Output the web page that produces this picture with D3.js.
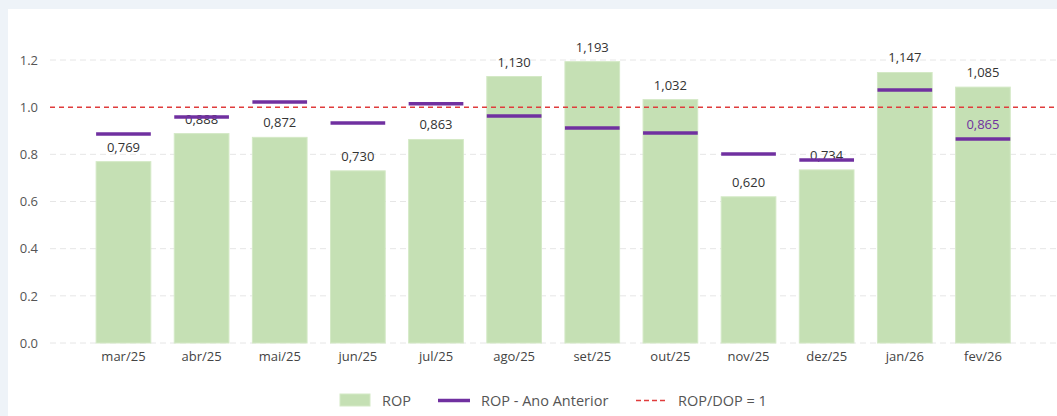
<!DOCTYPE html>
<html>
<head>
<meta charset="utf-8">
<script src="https://cdn.jsdelivr.net/npm/d3@7"></script>
<style>
  body { margin: 0; background: #eef3f8; }
  svg { display: block; font-family: "Open Sans", sans-serif; }
</style>
</head>
<body>
<svg id="chart"></svg>
<script>
// Data
const months = ['mar/25','abr/25','mai/25','jun/25','jul/25','ago/25','set/25','out/25','nov/25','dez/25','jan/26','fev/26'];
const rop = [0.769, 0.888, 0.872, 0.730, 0.863, 1.130, 1.193, 1.032, 0.620, 0.734, 1.147, 1.085];
const ropAnoAnterior = [0.886, 0.958, 1.022, 0.933, 1.014, 0.963, 0.912, 0.890, 0.801, 0.776, 1.073, 0.865];
const yTicks = [0, 0.2, 0.4, 0.6, 0.8, 1.0, 1.2];
const refLine = 1;

const width = 1057, height = 416;
const green = '#c5e0b4', purple = '#7030a0', red = '#e03c3c', textCol = '#333333';

const svg = d3.select('#chart').attr('width', width).attr('height', height);

// background panel
svg.append('rect').attr('width', width).attr('height', height).attr('fill', '#eef3f8');
svg.append('rect').attr('x', 8).attr('y', 9).attr('width', width - 8).attr('height', height - 9).attr('fill', '#ffffff');

const x = d3.scaleBand().domain(months).range([84.4, 1022]).paddingInner(0.3).paddingOuter(0.15);
const y = d3.scaleLinear().domain([0, 1.2]).range([343, 60]);

const fmt = v => d3.format('.3f')(v).replace('.', ',');

//Gridlines
svg.append('g').selectAll('line')
  .data(yTicks.filter(d => d !== 1))
  .enter().append('line')
    .attr('x1', 50).attr('x2', width)
    .attr('y1', d => y(d)).attr('y2', d => y(d))
    .attr('stroke', '#e6e6e6').attr('stroke-dasharray', '6,4');

//Y axis
const yAxis = svg.append('g')
  .attr('transform', 'translate(38,0)')
  .call(d3.axisLeft(y).tickValues(yTicks).tickFormat(d3.format('.1f')).tickSize(0).tickPadding(0));
yAxis.select('.domain').remove();
yAxis.selectAll('text').attr('font-size', 13).attr('fill', '#555').attr('font-family', '"Open Sans", sans-serif');

//X axis
const xAxis = svg.append('g')
  .attr('transform', 'translate(0,352)')
  .call(d3.axisBottom(x).tickSize(0).tickPadding(0));
xAxis.select('.domain').remove();
xAxis.selectAll('text').attr('font-size', 13).attr('fill', '#444').attr('dy', '0.71em').attr('font-family', '"Open Sans", sans-serif');

//Bars
svg.append('g').selectAll('rect')
  .data(rop)
  .enter().append('rect')
    .attr('x', (d, i) => x(months[i]))
    .attr('y', d => y(d))
    .attr('width', x.bandwidth())
    .attr('height', d => y(0) - y(d))
    .attr('fill', green)
    .attr('stroke', '#d4e9c6').attr('stroke-width', 1);

//Bar labels
svg.append('g').selectAll('text')
  .data(rop)
  .enter().append('text')
    .attr('x', (d, i) => x(months[i]) + x.bandwidth() / 2)
    .attr('y', d => y(d) - 10)
    .attr('text-anchor', 'middle')
    .attr('font-size', 13)
    .attr('font-weight', 500)
    .attr('fill', textCol)
    .text(d => fmt(d));

//Reference line
svg.append('line')
  .attr('x1', 50).attr('x2', width)
  .attr('y1', y(refLine)).attr('y2', y(refLine))
  .attr('stroke', red).attr('stroke-width', 1.5).attr('stroke-dasharray', '5,4');

//Previous year markers
svg.append('g').selectAll('line')
  .data(ropAnoAnterior)
  .enter().append('line')
    .attr('x1', (d, i) => x(months[i]))
    .attr('x2', (d, i) => x(months[i]) + x.bandwidth())
    .attr('y1', d => y(d)).attr('y2', d => y(d))
    .attr('stroke', purple).attr('stroke-width', 3.5);

// only the last one is labelled
const last = months.length - 1;
svg.append('text')
  .attr('x', x(months[last]) + x.bandwidth() / 2)
  .attr('y', y(ropAnoAnterior[last]) - 10)
  .attr('text-anchor', 'middle')
  .attr('font-size', 13)
  .attr('font-weight', 500)
  .attr('fill', purple)
  .text(fmt(ropAnoAnterior[last]));

//Legend
const lg = svg.append('g').attr('font-size', 14.5).attr('fill', '#555');
lg.append('rect').attr('x', 340).attr('y', 394).attr('width', 30).attr('height', 12).attr('fill', green).attr('stroke', '#d4e9c6');
lg.append('text').attr('x', 382).attr('y', 405.5).text('ROP');
lg.append('line').attr('x1', 438).attr('x2', 470).attr('y1', 400.5).attr('y2', 400.5).attr('stroke', purple).attr('stroke-width', 3.5);
lg.append('text').attr('x', 481).attr('y', 405.5).text('ROP - Ano Anterior');
lg.append('line').attr('x1', 636).attr('x2', 666).attr('y1', 400.5).attr('y2', 400.5).attr('stroke', red).attr('stroke-width', 1.5).attr('stroke-dasharray', '5,3');
lg.append('text').attr('x', 678).attr('y', 405.5).text('ROP/DOP = 1');
</script>
</body>
</html>
